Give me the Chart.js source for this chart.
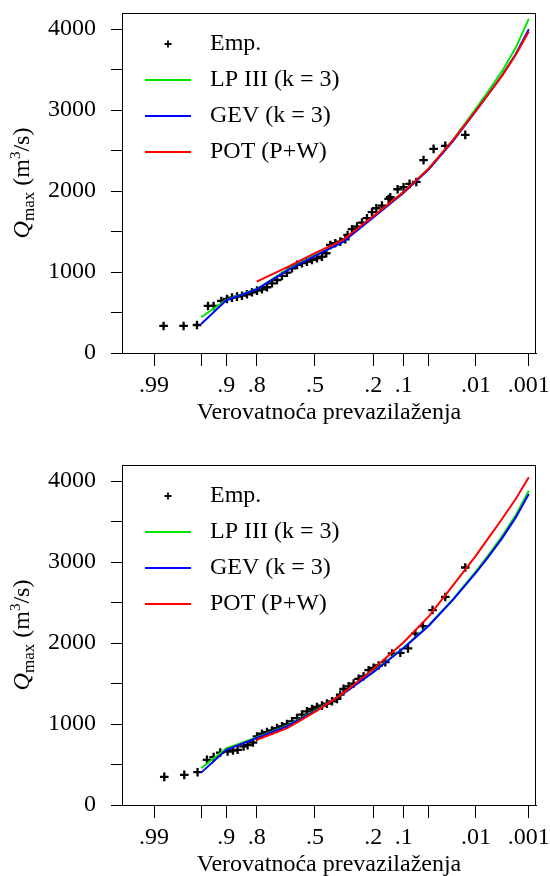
<!DOCTYPE html>
<html>
<head>
<meta charset="utf-8">
<script src="https://cdn.jsdelivr.net/npm/chart.js@4.4.1/dist/chart.umd.min.js"></script>
<style>
  html, body { margin: 0; padding: 0; background: #fff; overflow: hidden; }
  #wrap { position: relative; width: 550px; height: 876px; overflow: hidden; }
  canvas { position: absolute; left: 0; }
  #c1 { top: 0; }
  #c2 { top: 452px; }
</style>
</head>
<body>
<div id="wrap">
  <canvas id="c1" width="550" height="452"></canvas>
  <canvas id="c2" width="550" height="452"></canvas>
</div>
<script>
/* =========================
   DATA
   x values are standard normal variates u (normal probability paper)
========================== */
const probTicks = [0.99, 0.95, 0.9, 0.8, 0.5, 0.2, 0.1, 0.05, 0.01, 0.001];
const probLabels = [".99", "", ".9", ".8", ".5", ".2", ".1", "", ".01", ".001"];
const qTicks = [0, 500, 1000, 1500, 2000, 2500, 3000, 3500, 4000];

const seriesNames = ["Emp.", "LP III (k = 3)", "GEV (k = 3)", "POT (P+W)"];
const seriesColors = ["#000000", "#00e600", "#0000ff", "#ff0000"];

// upper panel - empirical points
const uEmpTop = [-2.188, -1.899, -1.705, -1.546, -1.465, -1.354, -1.272, -1.199, -1.127, -1.055,
  -0.983, -0.910, -0.838, -0.766, -0.694, -0.621, -0.549, -0.477, -0.405, -0.332,
  -0.260, -0.188, -0.116, -0.043, 0.029, 0.101, 0.163, 0.221, 0.293, 0.366,
  0.438, 0.471, 0.535, 0.607, 0.679, 0.751, 0.824, 0.886, 0.968, 1.064,
  1.088, 1.194, 1.280, 1.367, 1.464, 1.569, 1.714, 1.883, 2.172];
const qEmpTop = [334, 334, 346, 581, 581, 643, 667, 684, 696, 708,
  725, 750, 770, 787, 812, 861, 902, 952, 993, 1047,
  1088, 1109, 1129, 1150, 1170, 1190, 1232, 1335, 1356, 1376,
  1405, 1458, 1529, 1561, 1610, 1665, 1740, 1788, 1821, 1903,
  1924, 2023, 2048, 2089, 2113, 2382, 2521, 2558, 2694];

// lower panel - empirical points
const uEmpBot = [-2.178, -1.889, -1.697, -1.561, -1.465, -1.369, -1.263, -1.185, -1.118, -1.032,
  -0.974, -0.896, -0.838, -0.766, -0.694, -0.621, -0.549, -0.477, -0.405, -0.332,
  -0.260, -0.188, -0.116, -0.043, 0.029, 0.101, 0.173, 0.246, 0.318, 0.366,
  0.413, 0.486, 0.558, 0.630, 0.702, 0.775, 0.847, 0.919, 1.016, 1.113,
  1.233, 1.344, 1.450, 1.561, 1.699, 1.883, 2.172];
const qEmpBot = [347, 372, 405, 558, 591, 648, 661, 673, 682, 723,
  740, 772, 847, 880, 901, 921, 950, 971, 1000, 1033,
  1074, 1116, 1157, 1186, 1211, 1227, 1252, 1281, 1310, 1363,
  1434, 1466, 1500, 1558, 1590, 1665, 1694, 1723, 1764, 1872,
  1880, 1934, 2116, 2210, 2408, 2570, 2934];

// fitted distributions (same u nodes)
const uCurve = [-1.645, -1.282, -0.842, -0.4, 0, 0.4, 0.842, 1.282, 1.645, 2.0, 2.326, 2.5, 2.7, 2.9, 3.09];

const lp3Top = [441, 655, 790, 1030, 1210, 1380, 1685, 1990, 2280, 2640, 3020, 3230, 3475, 3770, 4128];
const gevTop = [358, 650, 787, 1020, 1200, 1370, 1675, 1980, 2270, 2625, 2990, 3190, 3425, 3690, 4001];
const potTop = [null, null, 881, 1060, 1235, 1395, 1690, 1990, 2280, 2635, 2995, 3190, 3420, 3680, 3971];

const lp3Bot = [455, 698, 835, 980, 1165, 1372, 1645, 1945, 2222, 2550, 2885, 3080, 3315, 3580, 3883];
const gevBot = [400, 682, 827, 975, 1160, 1370, 1640, 1940, 2215, 2540, 2870, 3060, 3290, 3550, 3842];
const potBot = [null, null, 806, 950, 1150, 1375, 1680, 2010, 2330, 2720, 3080, 3290, 3530, 3780, 4049];

/* =========================
   HELPERS
========================== */
// inverse standard normal CDF (Acklam)
function qnorm(p) {
    const a = [-3.969683028665376e+01, 2.209460984245205e+02, -2.759285104469687e+02, 1.383577518672690e+02, -3.066479806614716e+01, 2.506628277459239e+00];
    const b = [-5.447609879822406e+01, 1.615858368580409e+02, -1.556989798598866e+02, 6.680131188771972e+01, -1.328068155288572e+01];
    const c = [-7.784894002430293e-03, -3.223964580411365e-01, -2.400758277161838e+00, -2.549732539343734e+00, 4.374664141464968e+00, 2.938163982698783e+00];
    const d = [7.784695709041462e-03, 3.224671290700398e-01, 2.445134137142996e+00, 3.754408661907416e+00];
    const pl = 0.02425;
    let q, r;
    if (p < pl) {
        q = Math.sqrt(-2 * Math.log(p));
        return (((((c[0] * q + c[1]) * q + c[2]) * q + c[3]) * q + c[4]) * q + c[5]) / ((((d[0] * q + d[1]) * q + d[2]) * q + d[3]) * q + 1);
    }
    if (p > 1 - pl) {
        q = Math.sqrt(-2 * Math.log(1 - p));
        return -(((((c[0] * q + c[1]) * q + c[2]) * q + c[3]) * q + c[4]) * q + c[5]) / ((((d[0] * q + d[1]) * q + d[2]) * q + d[3]) * q + 1);
    }
    q = p - 0.5;
    r = q * q;
    return (((((a[0] * r + a[1]) * r + a[2]) * r + a[3]) * r + a[4]) * r + a[5]) * q / (((((b[0] * r + b[1]) * r + b[2]) * r + b[3]) * r + b[4]) * r + 1);
}

// exceedance probability -> normal variate of non-exceedance
const probTickU = probTicks.map(p => qnorm(1 - p));

function pairs(xs, ys) {
    const out = [];
    xs.forEach((x, i) => { if (ys[i] !== null) out.push({ x, y: ys[i] }); });
    return out;
}

const FONT = '"Liberation Serif", "Times New Roman", serif';

/* =========================
   DECORATION PLUGIN (frame, legend, y title)
========================== */
const decor = {
    id: "decor",
    afterDraw(chart) {
        const { ctx, chartArea: a } = chart;
        ctx.save();

        // box round the plot
        ctx.strokeStyle = "#000";
        ctx.lineWidth = 1;
        ctx.strokeRect(a.left + 0.5, a.top + 0.5, a.right - a.left - 1, a.bottom - a.top);

        // legend
        ctx.font = "24px " + FONT;
        ctx.textBaseline = "middle";
        ctx.textAlign = "left";
        const rows = [31, 67, 103, 139];
        seriesNames.forEach((name, i) => {
            const y = a.top + rows[i];
            if (i === 0) {
                const mx = a.left + 46;
                ctx.strokeStyle = "#000";
                ctx.lineWidth = 1.8;
                ctx.beginPath();
                ctx.moveTo(mx - 3.5, y); ctx.lineTo(mx + 3.5, y);
                ctx.moveTo(mx, y - 3.5); ctx.lineTo(mx, y + 3.5);
                ctx.stroke();
            } else {
                ctx.strokeStyle = seriesColors[i];
                ctx.lineWidth = 2;
                ctx.beginPath();
                ctx.moveTo(a.left + 23, y);
                ctx.lineTo(a.left + 69, y);
                ctx.stroke();
            }
            ctx.fillStyle = "#000";
            ctx.fillText(name, a.left + 88, y);
        });

        // y axis title: Q_max (m^3/s)
        const parts = [
            { t: "Q", f: "italic 24px " + FONT, dy: 0 },
            { t: "max", f: "17px " + FONT, dy: 5 },
            { t: " (m", f: "24px " + FONT, dy: 0 },
            { t: "3", f: "15px " + FONT, dy: -9 },
            { t: "/s)", f: "24px " + FONT, dy: 0 }
        ];
        let total = 0;
        parts.forEach(p => { ctx.font = p.f; p.w = ctx.measureText(p.t).width; total += p.w; });
        ctx.translate(29, (a.top + a.bottom) / 2);
        ctx.rotate(-Math.PI / 2);
        ctx.textBaseline = "alphabetic";
        let x = -total / 2;
        parts.forEach(p => {
            ctx.font = p.f;
            ctx.fillText(p.t, x, p.dy);
            x += p.w;
        });

        ctx.restore();
    }
};

/* =========================
   CHART SETUP
========================== */
function makeChart(id, uEmp, qEmp, lp3, gev, pot) {
    const ctx = document.getElementById(id).getContext("2d");
    const lineSet = (i, vals, order) => ({
        label: seriesNames[i],
        data: pairs(uCurve, vals),
        showLine: true,
        borderColor: seriesColors[i],
        borderWidth: 2,
        pointRadius: 0,
        tension: 0,
        fill: false,
        order
    });

    return new Chart(ctx, {
        type: "scatter",
        data: {
            datasets: [
                {
                    label: seriesNames[0],
                    data: pairs(uEmp, qEmp),
                    pointStyle: "cross",
                    pointRadius: 4.3,
                    pointBorderColor: "#000",
                    pointBorderWidth: 2.3,
                    showLine: false,
                    order: 4
                },
                lineSet(1, lp3, 3),
                lineSet(2, gev, 2),
                lineSet(3, pot, 1)
            ]
        },
        options: {
            responsive: false,
            animation: false,
            devicePixelRatio: 1,
            layout: { padding: { top: 13, right: 14, bottom: 0, left: 0 } },
            plugins: {
                legend: { display: false },
                tooltip: { enabled: false }
            },
            scales: {
                x: {
                    type: "linear",
                    min: -2.789,
                    max: 3.194,
                    afterBuildTicks: s => { s.ticks = probTickU.map(v => ({ value: v })); },
                    afterFit: s => { s.height = 99; s.paddingLeft = 0; s.paddingRight = 0; },
                    ticks: {
                        autoSkip: false,
                        maxRotation: 0,
                        padding: 5,
                        color: "#000",
                        font: { family: FONT, size: 24 },
                        callback: (v, i) => probLabels[i]
                    },
                    grid: { drawOnChartArea: false, drawTicks: true, tickLength: 13, color: "#000", lineWidth: 1 },
                    border: { display: true, color: "#000", width: 1 },
                    title: {
                        display: true,
                        text: "Verovatnoća prevazilaženja",
                        color: "#000",
                        font: { family: FONT, size: 24 },
                        padding: { top: 0, bottom: 25 }
                    }
                },
                y: {
                    type: "linear",
                    min: 0,
                    max: 4200,
                    afterBuildTicks: s => { s.ticks = qTicks.map(v => ({ value: v })); },
                    afterFit: s => { s.width = 122; s.paddingTop = 0; s.paddingBottom = 0; },
                    ticks: {
                        autoSkip: false,
                        padding: 15,
                        color: "#000",
                        font: { family: FONT, size: 24 },
                        callback: v => (v % 1000 === 0 ? String(v) : "")
                    },
                    grid: { drawOnChartArea: false, drawTicks: true, tickLength: 11, color: "#000", lineWidth: 1 },
                    border: { display: true, color: "#000", width: 1 }
                }
            }
        },
        plugins: [decor]
    });
}

makeChart("c1", uEmpTop, qEmpTop, lp3Top, gevTop, potTop);
makeChart("c2", uEmpBot, qEmpBot, lp3Bot, gevBot, potBot);
</script>
</body>
</html>
